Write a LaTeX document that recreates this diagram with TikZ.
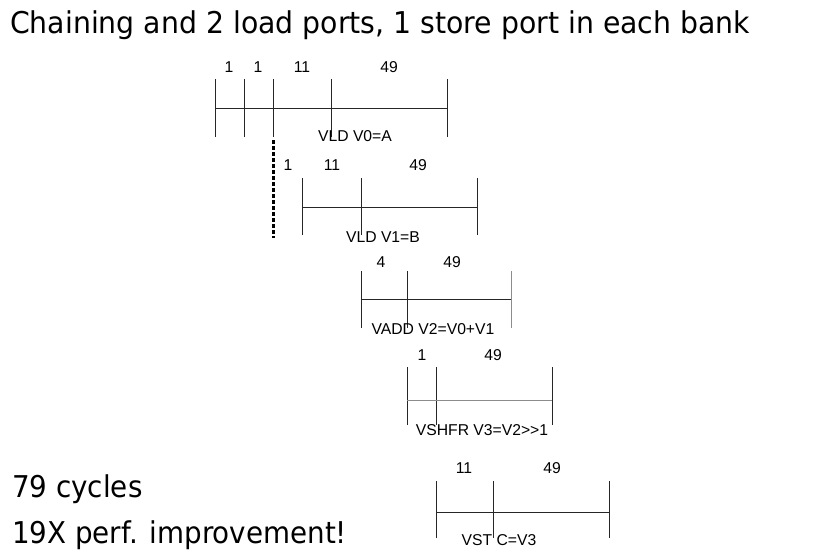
\documentclass[tikz,border=0pt]{standalone}
\usepackage{fontspec}
\setmainfont{Liberation Sans}
\newfontfamily\bigfont[FakeStretch=0.944]{DejaVu Sans}
\newfontfamily\notefont[FakeStretch=0.925]{DejaVu Sans}
\begin{document}
\begin{tikzpicture}[x=1pt,y=-1pt,
  tl/.style={line width=0.9pt, black!85},
  tlg/.style={line width=0.9pt, black!45},
  lbl/.style={inner sep=0pt, font=\fontsize{15.7}{18}\selectfont},
  big/.style={inner sep=0pt, anchor=base west, font=\bigfont\fontsize{30}{34}\selectfont},
  note/.style={inner sep=0pt, anchor=base west, font=\notefont\fontsize{30}{34}\selectfont},
  chain/.style={line width=3pt, dash pattern=on 3.5pt off 2.5pt}]
\useasboundingbox (0,0) rectangle (838,557);
% title and notes
\node[big] (title) at (10,33) {Chaining and 2 load ports, 1 store port in each bank};
\node[note] (cyc) at (12,497) {79 cycles};
\node[note] (perf) at (12,543) {19X perf. improvement!};
% timeline 1: VLD V0=A
\foreach \x in {215,244,273,331,447} \draw[tl] (\x,79) -- (\x,137);
\draw[tl] (215,108) -- (447,108);
\node[lbl] (a1) at (229,67) {1};
\node[lbl] (a2) at (258,67) {1};
\node[lbl] (a3) at (302,67) {11};
\node[lbl] (a4) at (389,67) {49};
\node[lbl] (la) at (355,136) {VLD V0=A};
% chaining marker
\coordinate (c1) at (273,140);
\coordinate (c2) at (273,238);
\draw[chain] (c1) -- (c2);
% timeline 2: VLD V1=B
\foreach \x in {302,361,477} \draw[tl] (\x,178) -- (\x,235);
\draw[tl] (302,207) -- (477,207);
\node[lbl] (b1) at (288,165) {1};
\node[lbl] (b2) at (332,165) {11};
\node[lbl] (b3) at (418,165) {49};
\node[lbl] (lb) at (383,237) {VLD V1=B};
% timeline 3: VADD
\foreach \x in {361,407} \draw[tl] (\x,271) -- (\x,328);
\draw[tlg] (511,271) -- (511,328);
\draw[tl] (361,299) -- (511,299);
\node[lbl] (d1) at (381,262) {4};
\node[lbl] (d2) at (452,262) {49};
\node[lbl] (ld) at (433,329) {VADD V2=V0+V1};
% timeline 4: VSHFR
\foreach \x in {407,436,552} \draw[tl] (\x,367) -- (\x,425);
\draw[tlg] (407,400) -- (552,400);
\node[lbl] (e1) at (422,355) {1};
\node[lbl] (e2) at (493,355) {49};
\node[lbl] (le) at (482,430) {VSHFR V3=V2>{}>1};
% timeline 5: VST
\foreach \x in {436,493,609} \draw[tl] (\x,481) -- (\x,538);
\draw[tl] (436,512) -- (609,512);
\node[lbl] (f1) at (464,468) {11};
\node[lbl] (f2) at (552,468) {49};
\node[lbl] (lf) at (499,540) {VST C=V3};
\end{tikzpicture}
\end{document}
